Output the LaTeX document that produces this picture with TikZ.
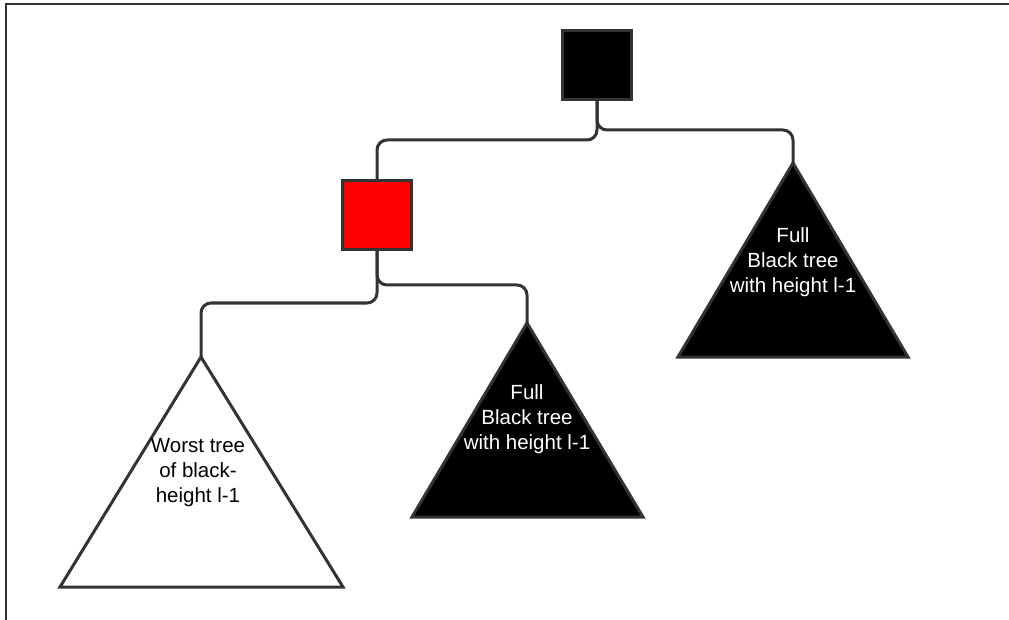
\documentclass[tikz,border=0pt]{standalone}
\usepackage{fontspec}
\setmainfont{Liberation Sans}
\usepackage{tikz}
\usetikzlibrary{positioning, calc}
\definecolor{edgegray}{RGB}{51,51,51}
\definecolor{nodered}{RGB}{255,0,0}
\tikzset{
    sqnode/.style={rectangle, draw=edgegray, line width=3pt,
                   minimum size=69pt, inner sep=0pt},
    link/.style={draw=edgegray, line width=3pt, rounded corners=10pt},
    subtree/.style={draw=edgegray, line width=3pt, line join=miter},
    treelbl/.style={align=center, inner sep=0pt,
                    font=\fontsize{20.5}{25}\selectfont},
}
\begin{document}
\begin{tikzpicture}[x=1pt, y=-1pt]
        \useasboundingbox (0,0) rectangle (1009,620);
        \draw[line width=2pt, edgegray] (6,620) -- (6,4) -- (1009,4);
        % squares
        \node[sqnode, fill=black] (root) at (597,65) {};
        \node[sqnode, fill=nodered] (redn) at (377,215) {};
        % subtree apexes
        \coordinate (rtop) at (793,163);
        \coordinate (mtop) at (527,323);
        \coordinate (ltop) at (201,357);
        \draw[subtree, fill=black] (rtop) -- (678,357) -- (908,357) -- cycle;
        \draw[subtree, fill=black] (mtop) -- (412,517) -- (643,517) -- cycle;
        \draw[subtree, fill=white] (ltop) -- (60,587) -- (343,587) -- cycle;
        \node[treelbl, text=white] (rlbl) at (793,262) {Full\\Black tree\\with height l-1};
        \node[treelbl, text=white] (mlbl) at (527,419) {Full\\Black tree\\with height l-1};
        \node[treelbl] (llbl) at (198,473) {Worst tree\\of black-\\height l-1};
        % connectors
        \draw[link] (root.south) -- ++(0,39) -| (redn.north);
        \draw[link] (root.south) -- ++(0,29) -| (rtop);
        \draw[link] (redn.south) -- ++(0,52) -| (ltop);
        \draw[link] (redn.south) -- ++(0,34) -| (mtop);
    \end{tikzpicture}
\end{document}
